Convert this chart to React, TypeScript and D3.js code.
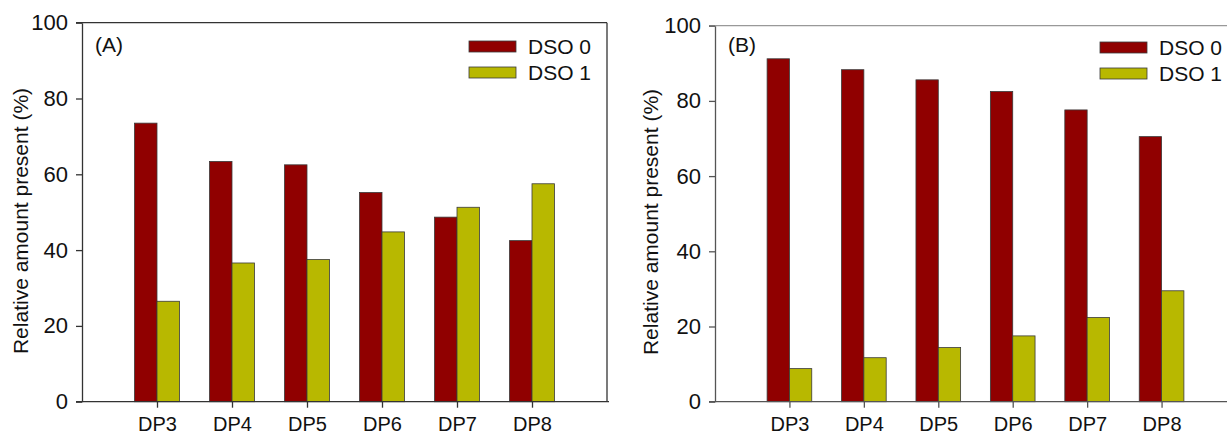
import React, { useEffect, useRef } from "react";
import * as d3 from "d3";

const categories = ["DP3", "DP4", "DP5", "DP6", "DP7", "DP8"];
const seriesNames = ["DSO 0", "DSO 1"];
const panelALabel = "(A)";
const panelBLabel = "(B)";
const dso0A = [73.5, 63.4, 62.5, 55.2, 48.7, 42.5];
const dso1A = [26.5, 36.6, 37.5, 44.8, 51.3, 57.5];
const dso0B = [91.2, 88.3, 85.6, 82.5, 77.6, 70.5];
const dso1B = [8.8, 11.7, 14.4, 17.5, 22.4, 29.5];
const yTicks = [0, 20, 40, 60, 80, 100];
const yTitle = "Relative amount present (%)";

const W = 1227;
const H = 437;
const FONT = "'Liberation Sans', Arial, Helvetica, sans-serif";
const colors = ["#900000", "#b8b800"];

// layout of the two panels (pixels)
const panels = [
  {
    label: panelALabel,
    values: [dso0A, dso1A],
    left: 82,
    right: 607,
    top: 22.7,
    bottom: 401.7,
    titleX: 28,
    titleY: 221,
    frame: "#333",
    topLine: "#333",
    box: true,
    labelX: 95,
    labelY: 52,
    legendX: 469,
    legendY: 41,
  },
  {
    label: panelBLabel,
    values: [dso0B, dso1B],
    left: 715,
    right: 1236,
    top: 25.7,
    bottom: 401.7,
    titleX: 658,
    titleY: 222,
    frame: "#555",
    topLine: "#999",
    box: false,
    labelX: 728,
    labelY: 52,
    legendX: 1100,
    legendY: 42,
  },
];

export default function App() {
  const ref = useRef<SVGSVGElement>(null);

  useEffect(() => {
    const svg = d3.select(ref.current);
    svg.selectAll("*").remove();

    panels.forEach((p) => {
      const g = svg.append("g");
      const x = d3
        .scalePoint()
        .domain(categories)
        .range([p.left, p.right])
        .padding(1);
      const y = d3.scaleLinear().domain([0, 100]).range([p.bottom, p.top]);
      const barW = x.step() * 0.3;

      // frame / top line
      g.append("line")
        .attr("x1", p.left - 6)
        .attr("x2", p.right)
        .attr("y1", p.top)
        .attr("y2", p.top)
        .attr("stroke", p.topLine)
        .attr("stroke-width", 1.3);
      if (p.box) {
        g.append("line")
          .attr("x1", p.right)
          .attr("x2", p.right)
          .attr("y1", p.top)
          .attr("y2", p.bottom)
          .attr("stroke", p.frame)
          .attr("stroke-width", 1.3);
      }

      // bars
      p.values.forEach((vals, si) => {
        g.append("g")
          .selectAll("rect")
          .data(vals)
          .join("rect")
          .attr("x", (d, i) => (x(categories[i]) as number) - barW + si * barW)
          .attr("y", (d) => y(d))
          .attr("width", barW)
          .attr("height", (d) => y(0) - y(d))
          .attr("fill", colors[si])
          .attr("stroke", "#3a3a3a")
          .attr("stroke-width", 0.8);
      });

      // y axis
      const ya = g
        .append("g")
        .attr("transform", `translate(${p.left},0)`)
        .call(d3.axisLeft(y).tickValues(yTicks).tickSize(6).tickPadding(8).tickSizeOuter(0));
      ya.select(".domain").attr("stroke", p.frame).attr("stroke-width", 1.3);
      ya.selectAll(".tick line").attr("stroke", p.frame).attr("stroke-width", 1.3);
      ya.selectAll(".tick text")
        .attr("font-family", FONT)
        .attr("font-size", 22)
        .attr("fill", "#111");

      // x axis
      const xa = g
        .append("g")
        .attr("transform", `translate(0,${p.bottom})`)
        .call(d3.axisBottom(x).tickSize(6).tickPadding(9).tickSizeOuter(0));
      xa.select(".domain")
        .attr("d", `M${p.left - 6},0H${p.right + 2}`)
        .attr("stroke", p.frame)
        .attr("stroke-width", 1.3);
      xa.selectAll(".tick line").attr("stroke", p.frame).attr("stroke-width", 1.3);
      xa.selectAll(".tick text")
        .attr("font-family", FONT)
        .attr("font-size", 20)
        .attr("fill", "#111");

      // y title
      g.append("text")
        .attr("transform", `translate(${p.titleX},${p.titleY}) rotate(-90)`)
        .attr("text-anchor", "middle")
        .attr("font-family", FONT)
        .attr("font-size", 21)
        .attr("fill", "#111")
        .text(yTitle);

      // panel label
      g.append("text")
        .attr("x", p.labelX)
        .attr("y", p.labelY)
        .attr("font-family", FONT)
        .attr("font-size", 21)
        .attr("fill", "#111")
        .text(p.label);

      // legend
      seriesNames.forEach((name, si) => {
        const ly = p.legendY + si * 26;
        g.append("rect")
          .attr("x", p.legendX)
          .attr("y", ly)
          .attr("width", 47)
          .attr("height", 11)
          .attr("fill", colors[si])
          .attr("stroke", "#3a3a3a")
          .attr("stroke-width", 0.8);
        g.append("text")
          .attr("x", p.legendX + 59)
          .attr("y", ly + 13)
          .attr("font-family", FONT)
          .attr("font-size", 21)
          .attr("fill", "#111")
          .text(name);
      });
    });
  }, []);

  return (
    <svg
      ref={ref}
      width={W}
      height={H}
      style={{ position: "absolute", left: 0, top: 0, background: "#fff" }}
    />
  );
}
